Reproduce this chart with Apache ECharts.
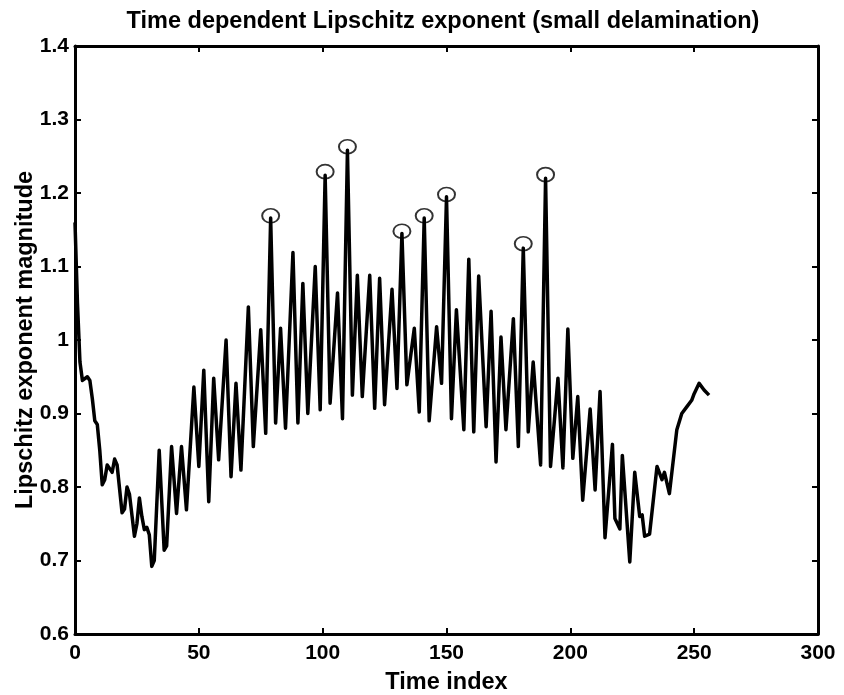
<!DOCTYPE html>
<html>
<head>
<meta charset="utf-8">
<title>Time dependent Lipschitz exponent</title>
<script src="https://cdn.jsdelivr.net/npm/echarts@6/dist/echarts.min.js"></script>
<style>
  html, body { margin: 0; padding: 0; background: #fff; }
  #grafico { width: 844px; height: 695px; }
</style>
</head>
<body>
<div id="grafico"></div>
<script>
// valores (picos y valles de la señal)
const timeIndex = [
  0, 1, 2, 3, 5, 6, 7, 8, 9, 10, 11, 12, 13, 14, 15, 16, 17, 19, 20, 21, 22,
  24, 25, 26, 27, 28, 29, 30, 31, 32, 34, 36, 37, 39, 41, 43, 45, 48, 50, 52,
  54, 56, 58, 61, 63, 65, 67, 70, 72, 75, 77, 79, 81, 83, 85, 88, 90, 92, 94,
  97, 99, 101, 103, 106, 108, 110, 112, 114, 116, 119, 121, 123, 125, 128, 130,
  132, 134, 137, 139, 141, 143, 146, 148, 150, 152, 154, 157, 159, 161, 163,
  166, 168, 170, 172, 174, 177, 179, 181, 183, 185, 188, 190, 192, 195, 197,
  199, 201, 203, 205, 208, 210, 212, 214, 217, 218, 220, 221, 224, 226, 228,
  229, 230, 232, 235, 237, 238, 240, 243, 245, 247, 249, 250, 252, 254, 256
];
const exponent = [
  1.16, 1.05, 0.97, 0.945, 0.95, 0.945, 0.92, 0.89, 0.885, 0.85, 0.803, 0.81, 0.83, 0.825, 0.82, 0.838, 0.83, 0.765, 0.77, 0.80, 0.79,
  0.733, 0.75, 0.785, 0.76, 0.742, 0.745, 0.735, 0.692, 0.70, 0.85, 0.714, 0.72, 0.855, 0.764, 0.855, 0.769, 0.936, 0.828, 0.959,
  0.78, 0.948, 0.837, 1.0, 0.814, 0.941, 0.823, 1.045, 0.855, 1.014, 0.873, 1.166, 0.887, 1.016, 0.88, 1.119, 0.887, 1.077, 0.90,
  1.10, 0.905, 1.224, 0.914, 1.064, 0.893, 1.258, 0.925, 1.088, 0.923, 1.088, 0.907, 1.084, 0.912, 1.069, 0.934,
  1.145, 0.939, 1.016, 0.902, 1.166, 0.89, 1.018, 0.941, 1.195, 0.893, 1.041, 0.878, 1.11, 0.875, 1.087,
  0.882, 1.039, 0.834, 1.004, 0.878, 1.029, 0.855, 1.125, 0.875, 0.97, 0.83, 1.22, 0.828, 0.948, 0.826,
  1.015, 0.839, 0.923, 0.782, 0.906, 0.796, 0.93, 0.731, 0.858, 0.757, 0.743, 0.843, 0.698, 0.82, 0.76,
  0.762, 0.733, 0.736, 0.828, 0.81, 0.82, 0.791, 0.878, 0.90, 0.909, 0.918, 0.927, 0.941, 0.932, 0.925
];
// picos marcados con circulos
const spikeIndex = [79, 101, 110, 132, 141, 150, 181, 190];
const spikeValue = [1.169, 1.229, 1.263, 1.148, 1.169, 1.198, 1.131, 1.225];

const fuente = 'Liberation Sans, Arial, Helvetica, sans-serif';
const negro = '#000';

const chart = echarts.init(document.getElementById('grafico'), null, { renderer: 'canvas' });

const ejeX = (arriba) => ({
  type: 'value',
  position: arriba ? 'top' : 'bottom',
  min: 0,
  max: 300,
  interval: 50,
  name: arriba ? '' : 'Time index',
  nameLocation: 'middle',
  nameGap: 37,
  nameMoveOverlap: false,
  nameTextStyle: { color: negro, fontFamily: fuente, fontWeight: 'bold', fontSize: 23.5 },
  axisLine: { show: true, onZero: false, lineStyle: { color: negro, width: 3 } },
  axisTick: { show: true, inside: true, length: 6, lineStyle: { color: negro, width: 2 } },
  axisLabel: {
    show: !arriba, margin: 9, color: negro,
    fontFamily: fuente, fontWeight: 'bold', fontSize: 21
  },
  splitLine: { show: false }
});

const ejeY = (derecha) => ({
  type: 'value',
  position: derecha ? 'right' : 'left',
  min: 0.6,
  max: 1.4,
  interval: 0.1,
  name: derecha ? '' : 'Lipschitz exponent magnitude',
  nameLocation: 'middle',
  nameGap: 37,
  nameRotate: 90,
  nameMoveOverlap: false,
  nameTextStyle: { color: negro, fontFamily: fuente, fontWeight: 'bold', fontSize: 23.5 },
  axisLine: { show: true, onZero: false, lineStyle: { color: negro, width: 3 } },
  axisTick: { show: true, inside: true, length: 6, lineStyle: { color: negro, width: 2 } },
  axisLabel: {
    show: !derecha, margin: 6, color: negro,
    fontFamily: fuente, fontWeight: 'bold', fontSize: 21
  },
  splitLine: { show: false }
});

const opciones = {
  animation: false,
  backgroundColor: '#fff',
  title: {
    text: 'Time dependent Lipschitz exponent (small delamination)',
    left: 438,
    top: 5,
    textAlign: 'center',
    textStyle: { color: negro, fontFamily: fuente, fontWeight: 'bold', fontSize: 23.5 }
  },
  grid: {
    left: 75, right: 26, top: 46, bottom: 61,
    containLabel: false,
    outerBoundsMode: 'none'
  },
  xAxis: [ejeX(false), ejeX(true)],
  yAxis: [ejeY(false), ejeY(true)],
  series: [
    {
      type: 'line',
      data: timeIndex.map((t, i) => [t, exponent[i]]),
      showSymbol: false,
      symbol: 'none',
      lineStyle: { color: negro, width: 3.5, join: 'round' },
      z: 2
    },
    {
      type: 'scatter',
      data: spikeIndex.map((t, i) => [t, spikeValue[i]]),
      symbol: 'circle',
      symbolSize: [17, 14],
      itemStyle: { color: 'rgba(0,0,0,0)', borderColor: negro, borderWidth: 1.8 },
      z: 3
    }
  ]
};

chart.setOption(opciones);
</script>
</body>
</html>
